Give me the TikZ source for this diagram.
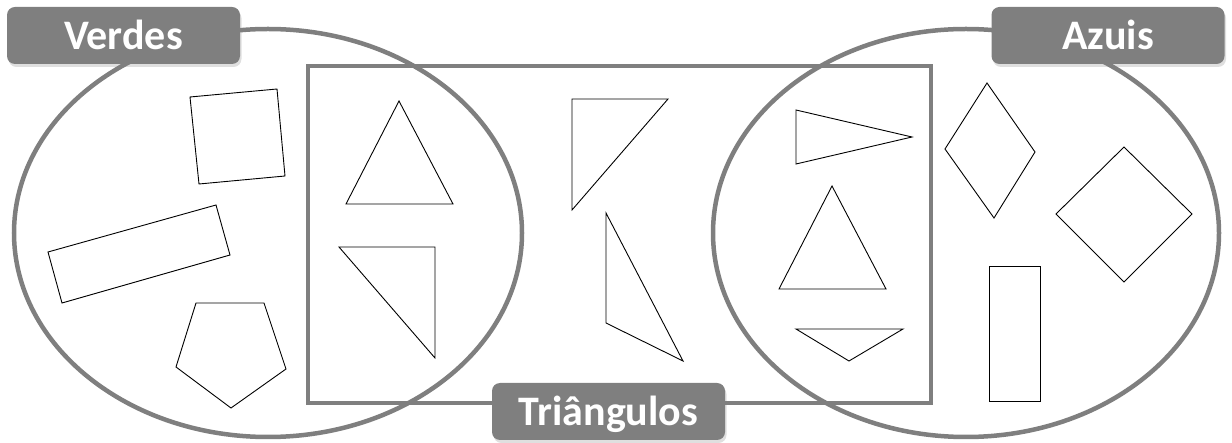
\documentclass[tikz,border=0pt]{standalone}
\usepackage{fontspec}
\setsansfont{Carlito}
\usetikzlibrary{shadows}
\definecolor{setgrey}{HTML}{7F7F7F}

\begin{document}
\begin{tikzpicture}[
x=1pt, y=-1pt,
setline/.style={draw=setgrey, line width=4.5pt},
figline/.style={draw=black, line width=0.9pt, line join=miter},
settag/.style={rectangle, rounded corners=8pt, fill=setgrey, text=white, minimum width=233pt, minimum height=57pt, text height=28pt, text depth=0pt, inner sep=0pt, font=\sffamily\bfseries\fontsize{42}{50}\selectfont, drop shadow={shadow xshift=1.5pt, shadow yshift=-3pt, opacity=0.25}}
]
\useasboundingbox (0,0) rectangle (1232,443);

% --- Sets ---
\draw[setline] (268,233) ellipse [x radius=254pt, y radius=204pt];
\draw[setline] (966,233) ellipse [x radius=253pt, y radius=204pt];
\draw[setline] (308,66) rectangle (931,403);

% --- Green shapes ---
\draw[figline] (190,97) -- (277,89) -- (285,176) -- (199,184) -- cycle;
\draw[figline] (48,252) -- (216,205) -- (230,255) -- (62,303) -- cycle;
\draw[figline] (196,303) -- (264,303) -- (286,369) -- (231,408) -- (176,367) -- cycle;

% --- Triangles ---
\draw[figline] (399,101) -- (453,204) -- (346,204) -- cycle;
\draw[figline] (339,247) -- (435,247) -- (435,358) -- cycle;
\draw[figline] (572,99) -- (668,99) -- (572,210) -- cycle;
\draw[figline] (606,213) -- (683,361) -- (606,323) -- cycle;
\draw[figline] (796,110) -- (912,137) -- (796,164) -- cycle;
\draw[figline] (832,186) -- (886,289) -- (779,289) -- cycle;
\draw[figline] (796,329) -- (903,329) -- (849,361) -- cycle;

% --- Blue shapes ---
\draw[figline] (987,83) -- (1035,152) -- (994,218) -- (945,149) -- cycle;
\draw[figline] (1124,147) -- (1192,214) -- (1124,282) -- (1056,214) -- cycle;
\draw[figline] (989,266) rectangle (1040,401);

% --- Labels ---
\node[settag] (verdes) at (123.5,35.5) {Verdes};
\node[settag] (azuis) at (1108,35.5) {Azuis};
\node[settag] (triangulos) at (608.5,411.5) {Triângulos};

\end{tikzpicture}
\end{document}
